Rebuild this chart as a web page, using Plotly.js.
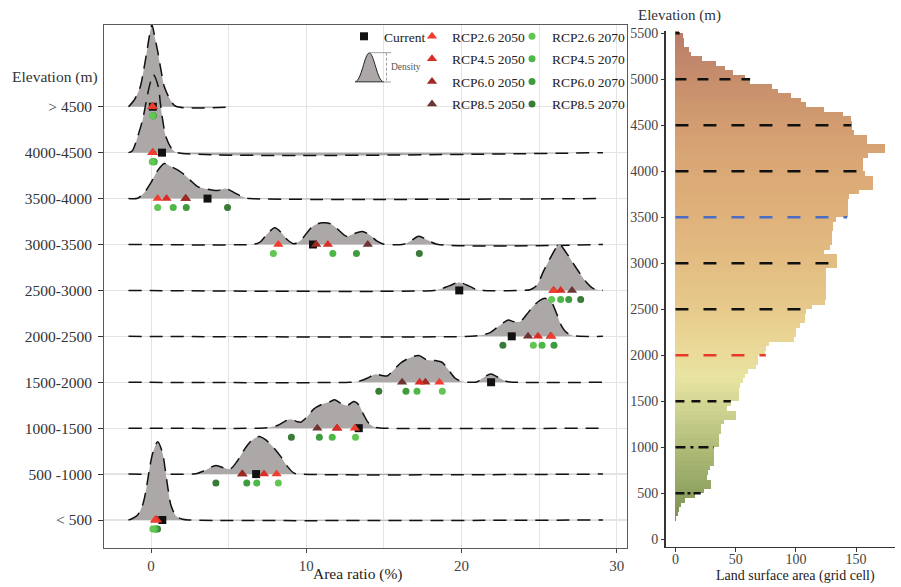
<!DOCTYPE html>
<html><head><meta charset="utf-8">
<script src="https://cdn.plot.ly/plotly-3.0.1.min.js"></script>
<style>html,body{margin:0;padding:0;background:#fff}#chart{width:901px;height:587px}</style>
</head><body><div id="chart"></div>
<script>
// ---------------- DATA ----------------
const rowLabels = ['< 500', '500 -1000', '1000-1500', '1500-2000', '2000-2500',
                   '2500-3000', '3000-3500', '3500-4000', '4000-4500', '> 4500'];

// Ridge densities (x = area ratio %, h = relative density height) per elevation band
const densX = [
  [-1.45,-1.2,-0.86,-0.54,-0.32,-0.11,0.11,0.43,0.75,0.92,1.11,1.28,1.61,2.03,2.5,29.1],
  [-1.45,2.4,2.89,3.43,4.18,4.71,5.1,5.57,6.0,6.42,6.96,7.39,7.92,8.35,8.78,9.21,9.6,29.1],
  [-1.45,7.0,7.5,8.14,8.67,8.99,9.42,9.64,10.07,10.49,11.03,11.56,11.82,12.21,12.64,13.06,13.38,13.7,14.02,14.45,14.9,29.1],
  [-1.45,12.8,13.3,13.92,14.45,14.88,15.2,15.63,16.06,16.6,17.24,17.77,18.31,18.74,19.16,19.59,20.02,20.5,20.99,21.41,21.88,22.38,22.91,23.4,29.1],
  [-1.45,20.6,21.2,21.84,22.27,22.7,23.02,23.34,23.77,24.2,24.62,25.05,25.37,25.8,26.12,26.44,26.77,27.19,27.6,29.1],
  [-1.45,18.2,18.63,19.2,19.85,20.45,20.99,21.4,24.0,24.41,24.84,25.27,25.7,26.29,26.77,27.19,27.62,28.05,28.47,28.9,29.1],
  [-1.45,6.4,6.85,7.07,7.5,7.97,8.46,8.78,9.2,9.64,10.07,10.49,11.03,11.56,11.99,12.42,12.63,13.06,13.6,14.13,14.56,14.99,16.27,16.7,17.24,17.77,18.42,29.1],
  [-1.45,-0.86,-0.43,0,0.43,0.86,1.29,1.71,2.14,2.57,3.0,3.64,4.28,4.82,5.35,6.0,6.4,29.1],
  [-1.45,-1.2,-0.86,-0.54,-0.32,-0.11,0.15,0.47,0.6,0.75,0.96,1.39,1.7,29.1],
  [-1.45,-1.07,-0.69,-0.47,-0.28,-0.11,0.06,0.24,0.45,0.64,0.86,1.24,1.6,5.3]
];
const densH = [
  [0,1.5,5,15,30,50,66.7,78.3,66.7,50,30,15,4,0.7,0,0],
  [0,0,0.3,3.3,8.7,6,5,13.3,24.3,32.7,37.7,34.3,26,17.7,7.7,1,0,0],
  [0,0,0.5,2.7,7.3,9,6.5,6,11.7,19.3,24,26.7,28.3,25,22.7,26.7,23.3,13.3,5,0.7,0,0],
  [0,0,0.7,4,8,6.7,6.3,12.3,19,24,26.7,22.3,21.7,20,12.3,4,0.7,0,0.3,4.7,8.3,4.7,0.7,0,0],
  [0,0,1,3.7,8.7,13.7,16.3,14.7,14.7,22,30.3,36,38,33.7,22.7,10.3,3.7,0.7,0,0],
  [0,0,1.3,4.5,8,4.5,0.7,0,0,0.7,5,19,32,46,37,27,17,8,2,0.3,0],
  [0,0,1,3,10.7,16.7,10.7,4.7,0.7,4,12.3,19,21.7,20.7,15.7,9.7,8,10.7,13,9,3.3,0.3,0.3,3.3,8.3,4.7,0.3,0],
  [0,0.3,6,16,28,35,32,28.7,24,17.7,12,9.3,8,10,6,1,0,0],
  [0,2,16,33,50,66,78,66,50,33,16,2.7,0,0],
  [0,7,20,37,54,70,82,70,54,37,20,7,0.5,0]
];

// Area ratio (%) per elevation band (index 0 = "< 500" ... 9 = "> 4500")
const current    = [0.73, 6.77, 13.38, 21.9, 23.23, 19.85, 10.43, 3.64, 0.71, 0.12];
const rcp26_2050 = [0.26, 8.09, 13.13, 18.57, 25.78, 25.91, 8.2, 0.43, 0.1, 0.08];
const rcp45_2050 = [0.39, 7.28, 11.99, 17.3, 24.92, 26.38, 11.39, 1.0, 0.12, 0.1];
const rcp60_2050 = [0.3, 5.87, 11.97, 17.67, 25.74, 25.93, 10.64, 2.22, 0.1, 0.1];
const rcp85_2050 = [0.35, 5.89, 10.71, 16.17, 24.28, 27.11, 13.96, 2.25, 0.12, 0.12];
const rcp26_2070 = [0.12, 8.2, 13.17, 18.76, 24.62, 25.8, 7.88, 0.43, 0.08, 0.1];
const rcp45_2070 = [0.22, 6.81, 11.67, 17.13, 25.18, 26.38, 11.71, 1.43, 0.15, 0.12];
const rcp60_2070 = [0.32, 6.17, 10.84, 16.42, 25.95, 26.9, 13.23, 2.27, 0.2, 0.15];
const rcp85_2070 = [0.42, 4.18, 9.04, 14.67, 22.66, 27.67, 17.28, 4.93, 0.18, 0.14];

// Right panel: land surface area (grid cells) per 50 m elevation bin (lower edge)
const elevBin = [200,250,300,350,400,450,500,550,600,650,700,750,800,850,900,950,
 1000,1050,1100,1150,1200,1250,1300,1350,1400,1450,1500,1550,1600,1650,1700,1750,1800,1850,1900,1950,
 2000,2050,2100,2150,2200,2250,2300,2350,2400,2450,2500,2550,2600,2650,2700,2750,2800,2850,2900,2950,
 3000,3050,3100,3150,3200,3250,3300,3350,3400,3450,3500,3550,3600,3650,3700,3750,3800,3850,3900,3950,
 4000,4050,4100,4150,4200,4250,4300,4350,4400,4450,4500,4550,4600,4650,4700,4750,4800,4850,4900,4950,
 5000,5050,5100,5150,5200,5250,5300,5350,5400,5450,5500];
const landArea = [0.5,2,3,5,8,16,24,29.7,29.7,26,27,28.9,31.7,31.7,31.7,31.7,
 36,36,36,38,38,40,50.5,50.5,42.8,46,52.8,52.8,52.8,54,56,57.5,60,67,68.6,68.6,
 74,75.5,78,98.6,100,100,103,107.5,107.5,108,113,124,125,125,125,125,125,125,125,134,
 134,134,123,128,129.7,129.7,129.7,130.5,130.5,133,143,143,143,143,144,152,164,164,164,157.5,
 156,156,156,160,174,174,159,159,148,147,147,146,139,123,108,104,96,85,80.5,62,
 57.5,48,41,34,22,13,11,7.5,7.5,6.1,3.3];

// Reference elevation lines on the right panel and how far they reach (grid cells)
const refElev = [500, 1000, 1500, 2000, 2500, 3000, 3500, 4000, 4500, 5000, 5500];
const refReach = [21, 32, 46, 75, 111, 134, 142.6, 156, 146, 62, 3.5];

// ---------------- STYLE ----------------
const FONT = 'Liberation Serif, "Times New Roman", serif';
const W = 901, H = 587;
const ROW_PX = 45.92;            // pixel spacing between ridge rows
const RIDGE = 1 / ROW_PX;        // density height units -> row units
const GRAY = 'rgb(172,168,168)';

const traces = [];

// Ridge densities: top rows first so lower rows overlap them
for (let r = rowLabels.length - 1; r >= 0; r--) {
  traces.push({
    type: 'scatter', mode: 'lines', xaxis: 'x', yaxis: 'y',
    x: densX[r], y: densH[r].map(h => r + h * RIDGE),
    fill: 'toself', fillcolor: GRAY,
    line: {color: '#111', width: 1.5, dash: '13px,8px', shape: 'spline', smoothing: 0.8},
    showlegend: false, hoverinfo: 'skip'
  });
}

const rowIdx = rowLabels.map((_, i) => i);
function pts(name, vals, symbol, color, size, yOff, legend, rank) {
  return {
    type: 'scatter', mode: 'markers', xaxis: 'x', yaxis: 'y', name: name,
    x: vals, y: rowIdx.map(i => i + yOff),
    marker: {symbol: symbol, color: color, size: size, line: {width: 0}},
    legend: legend, legendrank: rank, legendgroup: name, cliponaxis: false
  };
}
const CIRC = -0.196;
traces.push(pts('Current', current, 'square', '#111111', 8, 0, 'legend', 1));
traces.push(pts('RCP8.5 2050', rcp85_2050, 'triangle-up', '#6e3434', 9, 0, 'legend2', 4));
traces.push(pts('RCP6.0 2050', rcp60_2050, 'triangle-up', '#a02a22', 9, 0, 'legend2', 3));
traces.push(pts('RCP4.5 2050', rcp45_2050, 'triangle-up', '#d92d25', 9, 0, 'legend2', 2));
traces.push(pts('RCP2.6 2050', rcp26_2050, 'triangle-up', '#f03d2f', 9, 0, 'legend2', 1));
traces.push(pts('RCP8.5 2070', rcp85_2070, 'circle', '#3a7b38', 7, CIRC, 'legend3', 4));
traces.push(pts('RCP6.0 2070', rcp60_2070, 'circle', '#3f9c3e', 7, CIRC, 'legend3', 3));
traces.push(pts('RCP4.5 2070', rcp45_2070, 'circle', '#4cb848', 7, CIRC, 'legend3', 2));
traces.push(pts('RCP2.6 2070', rcp26_2070, 'circle', '#62c653', 7, CIRC, 'legend3', 1));

// Right panel histogram (colour by elevation)
traces.push({
  type: 'bar', orientation: 'h', xaxis: 'x2', yaxis: 'y2',
  y: elevBin.map(e => e + 25), x: landArea, width: 50,
  marker: {
    color: elevBin.map(e => e + 25), cmin: 200, cmax: 5550,
    colorscale: [
      [0, 'rgb(122,142,84)'], [0.06, 'rgb(145,163,98)'], [0.15, 'rgb(176,188,120)'],
      [0.23, 'rgb(208,212,145)'], [0.29, 'rgb(232,228,162)'], [0.35, 'rgb(234,217,152)'],
      [0.45, 'rgb(230,199,137)'], [0.55, 'rgb(226,186,128)'], [0.65, 'rgb(222,175,121)'],
      [0.75, 'rgb(216,164,116)'], [0.85, 'rgb(205,150,110)'], [0.93, 'rgb(194,136,107)'],
      [1, 'rgb(185,124,104)']],
    line: {width: 0}
  },
  showlegend: false, hoverinfo: 'skip'
});

const refColor = ['#111','#111','#111','#e8392b','#111','#111','#4a6cc4','#111','#111','#111','#111'];
const refDash = ['9px,3px,3px,3px','10px,5px,3px,5px','9px,7px','13px,15px','13px,15px','13px,15px',
                 '13px,15px','13px,15px','13px,15px','11px,11px','6px,3px'];
refElev.forEach((e, i) => {
  traces.push({
    type: 'scatter', mode: 'lines', xaxis: 'x2', yaxis: 'y2',
    x: [0, refReach[i]], y: [e, e],
    line: {color: refColor[i], width: 2.6, dash: refDash[i]},
    showlegend: false, hoverinfo: 'skip'
  });
});

// ---------------- LAYOUT ----------------
const px = (x) => x / W;
const py = (y) => 1 - y / H;
const P = (x, y) => px(x).toFixed(5) + ',' + py(y).toFixed(5);

const legendBase = {
  yanchor: 'top', xanchor: 'left', bgcolor: 'rgba(0,0,0,0)', borderwidth: 0,
  font: {family: FONT, size: 13.5, color: '#222'}, tracegroupgap: 2, itemwidth: 30
};

const layout = {
  width: W, height: H,
  margin: {l: 0, r: 0, t: 0, b: 0},
  paper_bgcolor: '#fff', plot_bgcolor: 'rgba(0,0,0,0)',
  font: {family: FONT, size: 15, color: '#333'},
  showlegend: true,
  xaxis: {
    domain: [px(104.3), px(626.5)], range: [-3.007, 30.62], anchor: 'y',
    tickvals: [0, 10, 20, 30], ticks: 'outside', ticklen: 4, tickcolor: '#444',
    tickfont: {family: FONT, size: 15, color: '#444'},
    showgrid: true, gridcolor: '#e4e4e4', gridwidth: 1,
    minor: {dtick: 5, tick0: 0, showgrid: true, gridcolor: '#e4e4e4', gridwidth: 1, ticks: ''},
    zeroline: false, showline: true, mirror: true, linecolor: '#5a5a5a', linewidth: 1.3,
    automargin: false
  },
  yaxis: {
    domain: [py(547.7), py(25)], range: [-0.603, 10.78], anchor: 'x',
    tickvals: rowIdx, ticktext: rowLabels, ticks: 'outside', ticklen: 5, tickcolor: '#333',
    tickfont: {family: FONT, size: 15.5, color: '#333'}, ticklabelstandoff: 3,
    showgrid: true, gridcolor: '#e4e4e4', gridwidth: 1.2,
    zeroline: false, showline: true, mirror: true, linecolor: '#5a5a5a', linewidth: 1.3,
    automargin: false
  },
  xaxis2: {
    domain: [px(665.7), px(895)], range: [-8.1, 182.3], anchor: 'y2',
    tickvals: [0, 50, 100, 150], ticks: 'outside', ticklen: 4, tickcolor: '#333',
    ticklabelstandoff: -5,
    tickfont: {family: FONT, size: 14, color: '#444'},
    showgrid: false, zeroline: false, showline: true, linecolor: '#333', linewidth: 1.6,
    automargin: false
  },
  yaxis2: {
    domain: [py(546.7), py(31)], range: [-80.4, 5525], anchor: 'x2',
    tickvals: [0,500,1000,1500,2000,2500,3000,3500,4000,4500,5000,5500],
    ticks: 'outside', ticklen: 3, tickcolor: '#333', ticklabelstandoff: 0,
    tickfont: {family: FONT, size: 14, color: '#444'},
    showgrid: false, zeroline: false, showline: true, linecolor: '#333', linewidth: 1.6,
    automargin: false
  },
  bargap: 0,
  legend: Object.assign({x: px(344), y: py(21)}, legendBase),
  legend2: Object.assign({x: px(412), y: py(21)}, legendBase),
  legend3: Object.assign({x: px(512), y: py(21)}, legendBase),
  annotations: [
    {xref: 'paper', yref: 'paper', x: px(10), y: py(77), xanchor: 'left', yanchor: 'middle',
     text: 'Elevation (m)', showarrow: false, font: {family: FONT, size: 15.5, color: '#333'}},
    {xref: 'paper', yref: 'paper', x: px(636), y: py(15), xanchor: 'left', yanchor: 'middle',
     text: 'Elevation (m)', showarrow: false, font: {family: FONT, size: 15, color: '#333'}},
    {xref: 'paper', yref: 'paper', x: px(357.5), y: py(574), xanchor: 'center', yanchor: 'middle',
     text: 'Area ratio (%)', showarrow: false, font: {family: FONT, size: 15.5, color: '#222'}},
    {xref: 'paper', yref: 'paper', x: px(795.5), y: py(576), xanchor: 'center', yanchor: 'middle',
     text: 'Land surface area (grid cell)', showarrow: false, font: {family: FONT, size: 14, color: '#222'}},
    {xref: 'paper', yref: 'paper', x: px(389), y: py(67), xanchor: 'left', yanchor: 'middle',
     text: 'Density', showarrow: false, font: {family: FONT, size: 9.5, color: '#555'}}
  ],
  shapes: [
    // legend glyph for the density ridges
    {type: 'path', xref: 'paper', yref: 'paper',
     path: 'M' + P(355, 81.7) + ' C' + P(361.5, 81.7) + ' ' + P(364.5, 53) + ' ' + P(369.3, 53) +
           ' C' + P(374.1, 53) + ' ' + P(377.1, 81.7) + ' ' + P(383.6, 81.7) + ' Z',
     fillcolor: GRAY, line: {color: '#222', width: 1}},
    {type: 'line', xref: 'paper', yref: 'paper', x0: px(369), x1: px(391), y0: py(52.7), y1: py(52.7),
     line: {color: '#888', width: 0.8}},
    {type: 'line', xref: 'paper', yref: 'paper', x0: px(355), x1: px(391), y0: py(82), y1: py(82),
     line: {color: '#888', width: 0.8}},
    {type: 'line', xref: 'paper', yref: 'paper', x0: px(386.5), x1: px(386.5), y0: py(52.7), y1: py(82),
     line: {color: '#888', width: 0.8, dash: '3px,2px'}}
  ]
};

Plotly.newPlot('chart', traces, layout, {displayModeBar: false, staticPlot: true});
</script></body></html>
